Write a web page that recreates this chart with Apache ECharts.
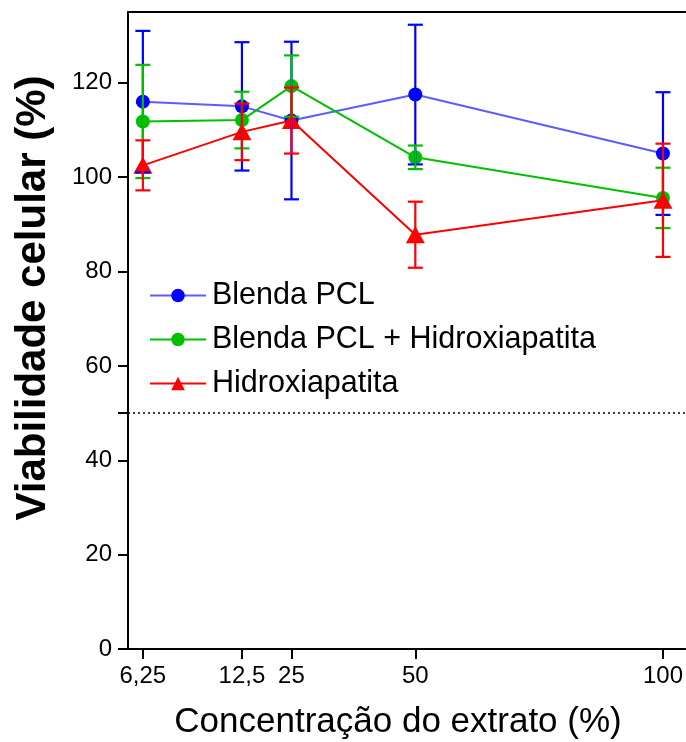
<!DOCTYPE html>
<html>
<head>
<meta charset="utf-8">
<script src="https://cdn.jsdelivr.net/npm/echarts@6/dist/echarts.min.js"></script>
<style>
html,body{margin:0;padding:0;background:#fff;}
#chart{width:686px;height:742px;}
</style>
</head>
<body>
<div id="chart"></div>
<script>
// Data
var xLabels = ['6,25', '12,5', '25', '50', '100'];
var xPos = [-5, 15, 25, 50, 100];
var yTicks = [0, 20, 40, 60, 80, 100, 120];
var seriesNames = ['Blenda PCL', 'Blenda PCL + Hidroxiapatita', 'Hidroxiapatita'];
var pclMean = [116.0, 115.0, 112.0, 117.5, 105.0];
var pclErr = [15.0, 13.6, 16.7, 14.8, 13.0];
var pclHaMean = [111.8, 112.1, 119.3, 104.2, 95.6];
var pclHaErr = [12.0, 6.0, 6.5, 2.5, 6.4];
var haMean = [102.5, 109.6, 112.0, 87.8, 95.1];
var haErr = [5.3, 6.0, 7.0, 7.0, 12.0];
var threshold = 50;

var FONT = "'Liberation Sans', Arial, sans-serif";

function pts(mean) {
  return xPos.map(function (x, i) { return [x, mean[i]]; });
}
function errData(mean, err) {
  return xPos.map(function (x, i) { return [x, mean[i] - err[i], mean[i] + err[i]]; });
}
function errSeries(mean, err, color) {
  return {
    type: 'custom',
    data: errData(mean, err),
    z: 10,
    silent: true,
    renderItem: function (params, api) {
      var x = api.value(0);
      var top = api.coord([x, api.value(2)]);
      var bot = api.coord([x, api.value(1)]);
      var hw = 7.5;
      var st = { stroke: color, lineWidth: 2.2 };
      return {
        type: 'group',
        children: [
          { type: 'line', shape: { x1: top[0], y1: top[1], x2: bot[0], y2: bot[1] }, style: st },
          { type: 'line', shape: { x1: top[0] - hw, y1: top[1], x2: top[0] + hw, y2: top[1] }, style: st },
          { type: 'line', shape: { x1: bot[0] - hw, y1: bot[1], x2: bot[0] + hw, y2: bot[1] }, style: st }
        ]
      };
    }
  };
}

var chart = echarts.init(document.getElementById('chart'), null, { renderer: 'canvas' });
var option = {
  animation: false,
  backgroundColor: '#ffffff',
  textStyle: { fontFamily: FONT },
  grid: { left: 128, right: 0, top: 12, bottom: 93, containLabel: false },
  xAxis: [{
    type: 'value',
    min: -8,
    max: 104.5,
    splitLine: { show: false },
    axisLine: { show: true, onZero: false, lineStyle: { color: '#000', width: 2 } },
    axisTick: { show: true, length: 10, customValues: xPos, lineStyle: { color: '#000', width: 2 } },
    axisLabel: {
      show: true, customValues: xPos, margin: 15,
      color: '#000', fontSize: 24, fontFamily: FONT,
      formatter: function (v) {
        var i = xPos.indexOf(v);
        return i >= 0 ? xLabels[i] : '';
      }
    }
  }, {
    type: 'value',
    position: 'top',
    min: -8,
    max: 104.5,
    splitLine: { show: false },
    axisLine: { show: true, onZero: false, lineStyle: { color: '#000', width: 2 } },
    axisTick: { show: false },
    axisLabel: { show: false }
  }],
  yAxis: {
    type: 'value',
    min: 0,
    max: 135,
    splitLine: { show: false },
    axisLine: { show: true, onZero: false, lineStyle: { color: '#000', width: 2 } },
    axisTick: { show: true, length: 10, customValues: yTicks.concat([threshold]), lineStyle: { color: '#000', width: 2 } },
    axisLabel: { show: true, customValues: yTicks, margin: 16, color: '#000', fontSize: 24, fontFamily: FONT }
  },
  legend: {
    orient: 'vertical',
    left: 144,
    top: 275,
    itemWidth: 56,
    itemHeight: 17,
    itemGap: 13,
    data: seriesNames,
    textStyle: { color: '#000', fontSize: 30.5, fontFamily: FONT, lineHeight: 30, padding: [0, 0, 0, 1] }
  },
  graphic: [{
    type: 'text',
    x: 33, y: 298,
    rotation: Math.PI / 2,
    style: {
      text: 'Viabilidade celular (%)',
      fill: '#000',
      font: 'bold 42px ' + FONT,
      textAlign: 'center',
      textVerticalAlign: 'middle'
    }
  }, {
    type: 'text',
    x: 398, y: 722,
    style: {
      text: 'Concentração do extrato (%)',
      fill: '#000',
      font: '35px ' + FONT,
      textAlign: 'center',
      textVerticalAlign: 'middle'
    }
  }],
  series: [
    {
      name: seriesNames[0], type: 'line', data: pts(pclMean),
      symbol: 'circle', symbolSize: 14,
      lineStyle: { color: '#5c5cff', width: 2 },
      itemStyle: { color: '#0000ff' },
      z: 3,
      markLine: {
        silent: true, symbol: 'none', label: { show: false },
        lineStyle: { color: '#000', type: [2, 3], width: 1.5 },
        data: [{ yAxis: threshold }]
      }
    },
    {
      name: seriesNames[1], type: 'line', data: pts(pclHaMean),
      symbol: 'circle', symbolSize: 14,
      lineStyle: { color: '#00c000', width: 2 },
      itemStyle: { color: '#00c000' },
      z: 4
    },
    {
      name: seriesNames[2], type: 'line', data: pts(haMean),
      symbol: 'triangle', symbolSize: [19, 17],
      lineStyle: { color: '#ff0000', width: 2 },
      itemStyle: { color: '#ff0000' },
      z: 5
    },
    errSeries(pclMean, pclErr, '#0000ff'),
    errSeries(pclHaMean, pclHaErr, '#00c000'),
    errSeries(haMean, haErr, '#ff0000')
  ]
};
chart.setOption(option);
</script>
</body>
</html>
